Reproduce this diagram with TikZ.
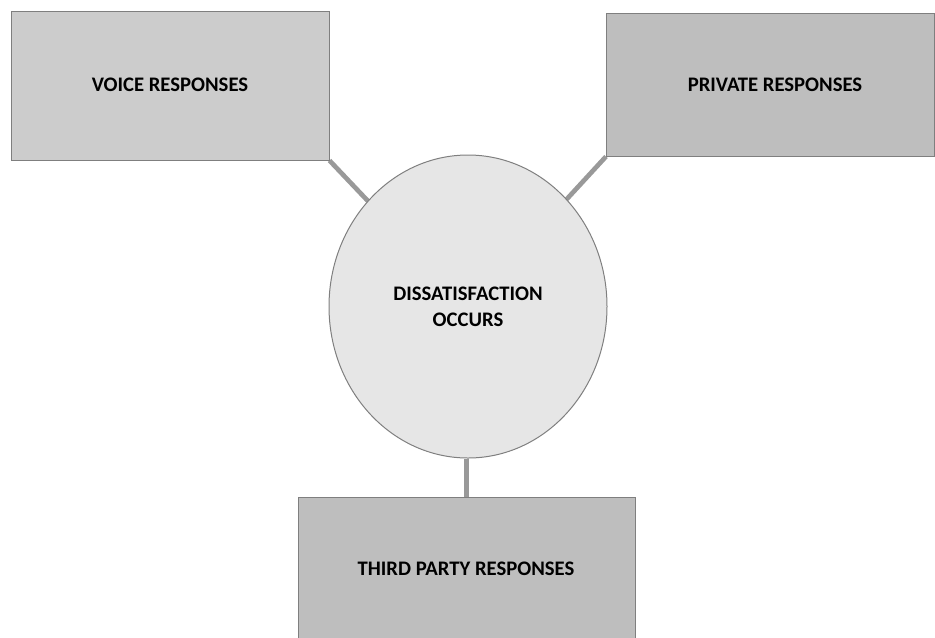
\documentclass[tikz,border=0pt]{standalone}
\usepackage{fontspec}
\setmainfont{Carlito}
\usetikzlibrary{backgrounds,shapes.geometric}
\definecolor{boxA}{HTML}{CCCCCC}
\definecolor{boxB}{HTML}{BEBEBE}
\definecolor{ellfill}{HTML}{E6E6E6}
\definecolor{edge}{HTML}{7F7F7F}
\definecolor{link}{HTML}{999999}
\tikzset{
  px/.style={x=0.75pt,y=-0.75pt},
  box/.style={draw=edge,line width=0.75pt,inner sep=0pt},
  label/.style={font=\fontsize{15.5}{19}\selectfont\bfseries},
  blob/.style={ellipse,draw=edge,line width=0.75pt,fill=ellfill,inner sep=0pt,align=center,font=\fontsize{15.5}{19.5}\selectfont\bfseries},
  linkline/.style={draw=link,line width=3.5pt}
}
\begin{document}
\begin{tikzpicture}[px]
\useasboundingbox (0,0) rectangle (935,637);
\node[box,fill=boxA,minimum width=318*0.75pt,minimum height=149*0.75pt] (v) at (170,85.5) {};
\node[label] (vt) at (170,85) {VOICE RESPONSES};
\node[box,fill=boxB,minimum width=328*0.75pt,minimum height=143*0.75pt] (p) at (770.5,84.5) {};
\node[label] (pt) at (775,85) {PRIVATE RESPONSES};
\node[blob,minimum width=278*0.75pt,minimum height=303*0.75pt] (c) at (468,306.5) {DISSATISFACTION\\OCCURS};
\node[box,fill=boxB,minimum width=337*0.75pt,minimum height=145*0.75pt] (t) at (466.5,569.5) {};
\node[label] (tt) at (466,569) {THIRD PARTY RESPONSES};
\begin{scope}[on background layer]
\draw[linkline] (v.south east) -- (c.center);
\draw[linkline] (p.south west) -- (c.center);
\draw[linkline] (t.north |- c.south) -- (t.north);
\end{scope}
\end{tikzpicture}
\end{document}
